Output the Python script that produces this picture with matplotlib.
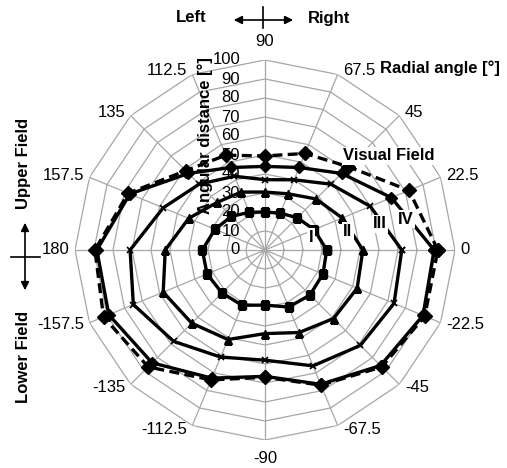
import numpy as np
import matplotlib.pyplot as plt

plt.rcParams['font.family'] = ['Liberation Sans', 'DejaVu Sans']

# radial angle of each spoke [deg] and its label
angles = [0, 22.5, 45, 67.5, 90, 112.5, 135, 157.5, 180,
          -157.5, -135, -112.5, -90, -67.5, -45, -22.5]
angle_labels = ['0', '22.5', '45', '67.5', '90', '112.5', '135', '157.5', '180',
                '-157.5', '-135', '-112.5', '-90', '-67.5', '-45', '-22.5']
r_ticks = list(range(0, 101, 10))

# angular distance [deg] of each isopter, same order as angles
field_I = [32.5, 28, 24, 21, 20, 21.5, 25, 28.5, 33, 33, 32, 31.5, 29, 32.5, 33.5, 33]
field_II = [51.5, 44, 38, 32, 30.5, 33, 35.5, 43.5, 52.5, 58, 54.5, 51, 44, 47, 51, 52.5]
field_III = [72, 60, 49, 40, 37, 42, 49, 58, 71, 75, 68, 61, 58, 66, 71, 73.5]
field_IV = [89, 72, 57, 47, 44, 47, 57, 77, 88.5, 89, 84, 73, 66.5, 76.5, 86, 90]
visual_field = [91, 82, 62, 55, 49.5, 54, 59, 78, 89.5, 92, 87, 74, 67, 77, 87, 91]

W, H = 507, 468
fig = plt.figure(figsize=(W / 100, H / 100), dpi=100)
ax = fig.add_axes([(265 - 190) / W, (H - 250 - 190) / H, 380 / W, 380 / H],
                  projection='polar')
ax.set_ylim(0, 100)
ax.grid(False)
ax.spines['polar'].set_visible(False)
ax.set_xticks([])
ax.set_yticks([])

th = np.deg2rad(angles)
thc = np.append(th, th[0])


def closed(v):
    return np.append(v, v[0])


grid_col = '#a6a6a6'
for r in r_ticks[1:]:
    ax.plot(thc, [r] * len(thc), color=grid_col, lw=0.9, zorder=1)
for t in th:
    ax.plot([t, t], [0, 100], color=grid_col, lw=0.9, zorder=1)

# radial tick labels along the 90 deg spoke
for r in r_ticks:
    ax.annotate(str(r), xy=(np.pi / 2, r), xytext=(-18, 0), textcoords='offset points',
                ha='right', va='center', fontsize=12, zorder=2)

# angle labels
for t, lab in zip(th, angle_labels):
    c, s = np.cos(t), np.sin(t)
    if abs(c) < 0.2:
        ha = 'center'
        va = 'bottom' if s > 0 else 'top'
        off = (0, 8 * np.sign(s))
    else:
        ha = 'left' if c > 0 else 'right'
        va = 'center'
        off = (4 * np.sign(c), 3 * s)
    ax.annotate(lab, xy=(t, 100), xytext=off, textcoords='offset points',
                ha=ha, va=va, fontsize=12, annotation_clip=False)

lw = 2.4
ax.plot(thc, closed(visual_field), color='k', lw=lw, ls=(0, (3, 1.6)),
        marker='D', ms=7, zorder=3)
ax.plot(thc, closed(field_IV), color='k', lw=lw, marker='D', ms=6.5, zorder=4)
ax.plot(thc, closed(field_III), color='k', lw=lw, marker='x', ms=5, mew=1.2, zorder=4)
ax.plot(thc, closed(field_II), color='k', lw=lw, marker='^', ms=6, zorder=4)
ax.plot(thc, closed(field_I), color='k', lw=lw, marker='s', ms=5.5, zorder=4)

# overlay in pixel coordinates for annotations
ov = fig.add_axes([0, 0, 1, 1], facecolor='none')
ov.set_xlim(0, W)
ov.set_ylim(H, 0)
ov.axis('off')

bold = dict(fontsize=12, fontweight='bold')
box = dict(facecolor='white', edgecolor='none', pad=1)
ov.text(205, 136, 'Angular distance [°]', rotation=90, ha='center', va='center', **bold)
ov.text(440, 68, 'Radial angle [°]', ha='center', va='center', **bold)
ov.text(389, 156, 'Visual Field', ha='center', va='center', bbox=box, **bold)
for x, y, lab in [(311, 237, 'I'), (348, 231, 'II'), (380, 224, 'III'), (406, 219, 'IV')]:
    ov.text(x, y, lab, ha='center', va='center', bbox=box, zorder=5, **bold)

ov.text(191, 18, 'Left', ha='center', va='center', **bold)
ov.text(329, 18, 'Right', ha='center', va='center', **bold)
ov.annotate('', xy=(231, 20), xytext=(296, 20),
            arrowprops=dict(arrowstyle='<|-|>', color='k', lw=1.2, mutation_scale=12))
ov.plot([263, 263], [7, 28], color='k', lw=1.2)

ov.text(24, 163, 'Upper Field', rotation=90, ha='center', va='center', **bold)
ov.text(24, 357, 'Lower Field', rotation=90, ha='center', va='center', **bold)
ov.annotate('', xy=(25, 220), xytext=(25, 293),
            arrowprops=dict(arrowstyle='<|-|>', color='k', lw=1.2, mutation_scale=12))
ov.plot([11, 40], [257, 257], color='k', lw=1.2)

fig.savefig('out.png', dpi=100)
